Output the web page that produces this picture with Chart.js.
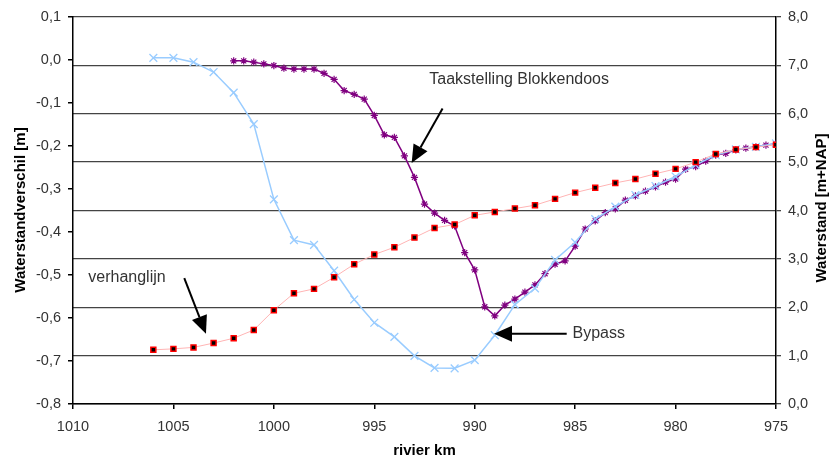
<!DOCTYPE html>
<html>
<head>
<title>Waterstandverschil</title>
<script src="https://cdn.jsdelivr.net/npm/chart.js"></script>
<style>
    body { margin: 0; background: #fff; }
    #wrap { width: 829px; height: 459px; }
</style>
</head>
<body>
<div id="wrap"><canvas id="chart"></canvas></div>
<script>
// rivier km, every km (verhanglijn + bypass)
const kmStep1 = [1006, 1005, 1004, 1003, 1002, 1001, 1000, 999, 998, 997, 996, 995, 994, 993, 992, 991,
                 990, 989, 988, 987, 986, 985, 984, 983, 982, 981, 980, 979, 978, 977, 976, 975];
// verhanglijn, waterstand [m+NAP] (right axis)
const verhanglijn = [1.12, 1.14, 1.17, 1.26, 1.36, 1.53, 1.94, 2.29, 2.38, 2.62, 2.89, 3.09, 3.24, 3.44, 3.64, 3.71,
                     3.90, 3.97, 4.04, 4.11, 4.24, 4.37, 4.47, 4.57, 4.65, 4.76, 4.86, 5.00, 5.17, 5.26, 5.31, 5.36];
// Bypass, waterstandverschil [m] (left axis)
const bypass = [0.005, 0.005, -0.005, -0.028, -0.076, -0.149, -0.324, -0.419, -0.430, -0.490, -0.557, -0.611, -0.644, -0.688, -0.716, -0.717,
                -0.698, -0.640, -0.569, -0.531, -0.465, -0.424, -0.370, -0.341, -0.314, -0.293, -0.271, -0.244, -0.221, -0.208, -0.202, -0.194];

// rivier km, every half km (Taakstelling Blokkendoos)
const kmStep05 = [1002, 1001.5, 1001, 1000.5, 1000, 999.5, 999, 998.5, 998, 997.5, 997, 996.5, 996, 995.5, 995, 994.5,
                  994, 993.5, 993, 992.5, 992, 991.5, 991, 990.5, 990, 989.5, 989, 988.5, 988, 987.5, 987, 986.5,
                  986, 985.5, 985, 984.5, 984, 983.5, 983, 982.5, 982, 981.5, 981, 980.5, 980, 979.5, 979, 978.5,
                  978, 977.5, 977, 976.5, 976, 975.5, 975];
const taakstelling = [-0.002, -0.002, -0.005, -0.009, -0.013, -0.019, -0.021, -0.021, -0.021, -0.031, -0.045, -0.071, -0.080, -0.091, -0.129, -0.174,
                      -0.180, -0.223, -0.273, -0.335, -0.356, -0.373, -0.386, -0.448, -0.488, -0.574, -0.595, -0.570, -0.556, -0.540, -0.523, -0.497,
                      -0.475, -0.467, -0.433, -0.393, -0.374, -0.355, -0.346, -0.326, -0.316, -0.305, -0.295, -0.284, -0.277, -0.254, -0.248, -0.235,
                      -0.221, -0.217, -0.209, -0.205, -0.202, -0.198, -0.195];

const FONT = '"Liberation Sans", Arial, sans-serif';

function commaFmt(v) {
    if (Math.abs(v) < 1e-9) return '0,0';
    return v.toFixed(1).replace('.', ',');
}

function toPoints(xs, ys) {
    return xs.map(function(x, i) { return {x: x, y: ys[i]}; });
}

// labels and arrows, placed in km / waterstand coordinates
const notes = [
    {text: 'Taakstelling Blokkendoos', km: 992.26, v: 6.61},
    {text: 'verhanglijn', km: 1009.24, v: 2.53},
    {text: 'Bypass', km: 985.13, v: 1.36}
];
const arrows = [
    {from: [991.6, 6.11], to: [993.14, 4.98]},
    {from: [1004.46, 2.60], to: [1003.38, 1.45]},
    {from: [985.42, 1.45], to: [989.04, 1.45]}
];

function drawArrow(ctx, x1, y1, x2, y2) {
    var ang = Math.atan2(y2 - y1, x2 - x1);
    var len = 18, half = 8;
    var bx = x2 - Math.cos(ang) * len, by = y2 - Math.sin(ang) * len;
    ctx.beginPath();
    ctx.moveTo(x1, y1);
    ctx.lineTo(bx, by);
    ctx.stroke();
    ctx.beginPath();
    ctx.moveTo(x2, y2);
    ctx.lineTo(bx + Math.sin(ang) * half, by - Math.cos(ang) * half);
    ctx.lineTo(bx - Math.sin(ang) * half, by + Math.cos(ang) * half);
    ctx.closePath();
    ctx.fill();
}

const overlay = {
    id: 'overlay',
    afterDraw(chart) {
        var ctx = chart.ctx;
        var sx = chart.scales.x, sy = chart.scales.y1;
        ctx.save();

        // axis titles
        ctx.fillStyle = '#000';
        ctx.font = 'bold 15px ' + FONT;
        ctx.textAlign = 'center';
        ctx.textBaseline = 'middle';
        ctx.save();
        ctx.translate(21, 210);
        ctx.rotate(-Math.PI / 2);
        ctx.fillText('Waterstandverschil [m]', 0, 0);
        ctx.restore();
        ctx.save();
        ctx.translate(822, 208);
        ctx.rotate(-Math.PI / 2);
        ctx.fillText('Waterstand [m+NAP]', 0, 0);
        ctx.restore();
        ctx.fillText('rivier km', (chart.chartArea.left + chart.chartArea.right) / 2, 451);

        // annotations
        ctx.fillStyle = '#333';
        ctx.font = '16px ' + FONT;
        ctx.textAlign = 'left';
        ctx.textBaseline = 'alphabetic';
        notes.forEach(function(n) {
            ctx.fillText(n.text, sx.getPixelForValue(n.km), sy.getPixelForValue(n.v));
        });

        ctx.strokeStyle = '#000';
        ctx.fillStyle = '#000';
        ctx.lineWidth = 2;
        arrows.forEach(function(a) {
            drawArrow(ctx,
                sx.getPixelForValue(a.from[0]), sy.getPixelForValue(a.from[1]),
                sx.getPixelForValue(a.to[0]), sy.getPixelForValue(a.to[1]));
        });
        ctx.restore();
    }
};

new Chart(document.getElementById('chart'), {
    type: 'line',
    data: {
        datasets: [
            {
                label: 'verhanglijn',
                data: toPoints(kmStep1, verhanglijn),
                yAxisID: 'y1',
                borderColor: '#ffb4b4',
                borderWidth: 1,
                pointStyle: 'rect',
                pointRadius: 3.5,
                pointBackgroundColor: '#000',
                pointBorderColor: '#ff0000',
                pointBorderWidth: 1.5
            },
            {
                label: 'Bypass',
                data: toPoints(kmStep1, bypass),
                yAxisID: 'y',
                borderColor: '#99ccff',
                borderWidth: 1.5,
                pointStyle: 'crossRot',
                pointRadius: 5.5,
                pointBorderColor: '#99ccff',
                pointBorderWidth: 1.3
            },
            {
                label: 'Taakstelling Blokkendoos',
                data: toPoints(kmStep05, taakstelling),
                yAxisID: 'y',
                borderColor: '#800080',
                borderWidth: 1.5,
                pointStyle: 'star',
                pointRadius: 3.6,
                pointBorderColor: '#800080',
                pointBorderWidth: 1.2
            }
        ]
    },
    options: {
        responsive: true,
        maintainAspectRatio: false,
        animation: false,
        layout: { padding: { top: 17, left: 0, right: 0, bottom: 0 } },
        plugins: {
            legend: { display: false },
            tooltip: { enabled: false }
        },
        scales: {
            x: {
                type: 'linear',
                reverse: true,
                min: 975,
                max: 1010,
                afterFit: function(s) { s.height = 55; },
                border: { color: '#000', width: 1.5 },
                grid: { drawOnChartArea: false, tickLength: 5, color: '#000', lineWidth: 1.5 },
                ticks: {
                    stepSize: 5,
                    padding: 9,
                    color: '#333',
                    font: { family: FONT, size: 14.5 },
                    maxRotation: 0,
                    callback: function(v) { return String(v); }
                }
            },
            y: {
                position: 'left',
                min: -0.8,
                max: 0.1,
                afterFit: function(s) { s.width = 73; },
                border: { color: '#000', width: 1.5 },
                grid: { drawOnChartArea: false, tickLength: 5, color: '#000', lineWidth: 1.5 },
                ticks: {
                    stepSize: 0.1,
                    padding: 7,
                    color: '#333',
                    font: { family: FONT, size: 14.5 },
                    callback: function(v) { return commaFmt(v); }
                }
            },
            y1: {
                position: 'right',
                min: 0,
                max: 8,
                afterFit: function(s) { s.width = 53; },
                border: { color: '#000', width: 1.5 },
                grid: { drawOnChartArea: true, tickLength: 5, color: '#444', lineWidth: 1.3 },
                ticks: {
                    stepSize: 1,
                    padding: 7,
                    color: '#333',
                    font: { family: FONT, size: 14.5 },
                    callback: function(v) { return commaFmt(v); }
                }
            }
        }
    },
    plugins: [overlay]
});
</script>
</body>
</html>
